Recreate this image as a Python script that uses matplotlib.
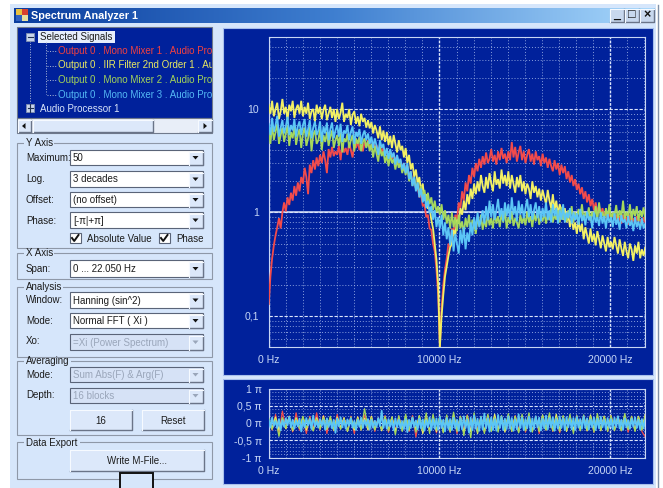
import matplotlib
matplotlib.use("Agg")
import matplotlib.pyplot as plt
import matplotlib.ticker
import numpy as np
from matplotlib.patches import Rectangle, Polygon

W, H = 663, 488
SPAN = 22050
plt.rcParams['font.family'] = ['Liberation Sans', 'DejaVu Sans']

signals = ["Output 0 . Mono Mixer 1 . Audio Processor 1",
           "Output 0 . IIR Filter 2nd Order 1 . Audio Processor 1",
           "Output 0 . Mono Mixer 2 . Audio Processor 1",
           "Output 0 . Mono Mixer 3 . Audio Processor 1"]
mag_ticks = [0.1, 1, 10]
mag_labels = ["0,1", "1", "10"]
freq_ticks = [0, 10000, 20000]
freq_labels = ["0 Hz", "10000 Hz", "20000 Hz"]
phase_ticks = [-1, -0.5, 0, 0.5, 1]
phase_labels = ["-1 π", "-0,5 π", "0 π", "0,5 π", "1 π"]

mag_red = [.13,.24,.36,.48,.6,.72,.88,.7,1,1.25,1.02,1.4,1.18,1.55,1.3,1.8,1.45,1.95,1.6,2.2,
 1.9,2.7,2.2,1.5,2.9,2.4,3.2,2.6,3.4,2.8,3.6,3,3.9,3.2,2.4,4.1,3.4,4.3,3.5,3.9,
 3.6,4.4,3.2,4.6,3.8,4.2,3.6,4.7,4,3.4,4.6,4.2,4.9,4,4.5,3.9,4.8,4.3,5,4.4,
 4.1,4.8,4.2,4.5,3.9,4.4,3.7,4.2,3.6,4.1,3.4,3.9,3.3,3.7,3.1,3.5,2.9,3.2,2.7,3,
 2.5,2.8,2.2,2.5,1.9,2.1,1.7,1.8,1.4,1.5,1.15,1.2,.9,.95,.7,.68,.5,.42,.28,.16,
 .05,
 .12,.2,.28,.36,.5,.46,.7,.62,.95,.85,1.25,1.1,1.6,1.3,1.95,1.6,2.3,1.9,2.7,2.2,
 3,2.5,3.3,2.7,3.5,2.9,3.8,3,3.3,4.1,3.1,3.6,2.9,3.9,3.2,4.2,3.3,3.7,3,3.9,
 3.2,4.8,3.4,4.3,3.1,3.8,4.4,3.2,3.9,3.0,3.6,4.1,3.1,3.7,2.9,3.9,3.2,3.5,2.8,3.7,
 3,3.4,2.7,3.3,2.8,2.5,3.2,2.6,3,2.3,2.9,2.4,2.8,2.1,2.5,1.95,2.3,1.8,2.1,1.65,
 1.9,1.5,1.75,1.35,1.6,1.25,1.5,1.15,1.35,1.05,1.25,1.0,1.15,.95,1.1,.9,1.05,.85,1,.88,
 .98,.85,.95,.8,.92,.78,.95,.82,.9,.76,.95,.8,.88,.78,.92,.82,.86,.75,.9,.8]
mag_yellow = [11,9,12,8.5,10,11.5,8,9.5,12.5,9,10.5,7.8,11,9.5,12,8.2,10,11,9,12,
 8.5,10.5,9,11.5,8,9.5,10,7.5,11,9,10.5,8,9.8,11,7.8,9,10.5,8.2,10,7.5,
 10,8,9.2,11.5,7.5,9,8.2,10,7,8.8,9.5,7.2,8.5,6.8,9,7.5,8.2,6.6,7.8,6.5,
 7.5,5.8,7,6.2,5.2,6.8,5,6.2,4.8,6,4.5,5.5,4.2,5.6,4.6,3.8,5,4,4.4,3.4,
 4.2,3,3.6,2.6,3,2.2,2.6,1.9,2.2,1.6,1.9,1.3,1.5,1.1,1.1,.85,.7,.5,.35,.2,
 .05,
 .1,.16,.24,.3,.38,.46,.5,.68,.6,.85,.78,1.1,.95,1.3,1.05,1.5,1.2,1.7,1.35,1.9,
 1.5,2,1.6,2.3,1.8,1.55,2.2,1.7,2.4,1.9,1.6,2.5,1.85,2.1,1.7,2.6,1.9,2.3,1.8,2.5,
 1.7,2.3,1.9,1.55,2.2,1.75,2.3,1.6,2,1.5,1.9,1.7,1.35,2,1.55,1.8,1.4,1.7,1.3,1.65,
 1.4,1.2,1.65,1.3,1.1,1.5,1.05,1.3,.95,1.2,1.05,.85,1.1,.8,.95,.72,.9,.68,.8,.62,
 .85,.65,.78,.55,.72,.6,.5,.7,.52,.62,.48,.66,.55,.45,.6,.5,.42,.58,.46,.52,
 .44,.58,.48,.4,.55,.45,.38,.52,.42,.36,.5,.44,.34,.48,.4,.52,.36,.44,.38,.46]
mag_green = [6.2,4.6,7,5,6,7.2,4.6,5.6,6.6,4.8,5.8,7,4.4,6,5.2,6.8,4.5,5.6,6.4,4.2,
 5.8,6.6,4.4,5.2,6.8,3.9,5.6,6.2,4.6,5,6.4,4,5.6,4.8,6,4.4,5.4,6.2,4.2,5,
 5.6,4.4,5.9,3.8,5.2,4.8,5.8,4.2,5,5.6,3.9,5.2,4.6,5.4,3.9,4.8,5.2,4.2,4.9,3.9,
 4.6,3.4,4.4,3.7,3.1,4.3,3.5,3.9,3,3.6,2.8,3.6,3,3.3,2.6,3.2,2.7,3,2.4,2.8,
 2.3,2.8,2.0,2.4,1.8,2.2,1.7,1.95,1.5,1.8,1.4,1.65,1.25,1.55,1.2,1.4,1.05,1.3,1,1.15,
 .95,1.2,.85,1.05,.78,.95,.7,1.0,.72,.9,
 .66,.95,.7,.82,.62,.88,.72,.95,.66,.85,.78,.62,.9,.74,.95,.68,.85,.72,.98,.75,
 .88,.7,1.0,.78,.92,.72,.98,.8,1.05,.7,.9,.78,1.02,.74,.88,.8,.7,.95,.78,.9,
 .75,1.02,.8,.92,.72,.98,.82,1.05,.76,.9,.82,1.0,.78,.94,.84,1.1,.8,.95,.85,1.05,
 .8,1.12,.86,.98,.82,1.05,.9,1.15,.8,1.0,.86,1.08,.9,1.2,.84,1,.9,1.12,.82,1.02,
 .88,1.15,.84,1.25,.9,1.02,.82,1.1,.88,1.2,.85,1,.92,1.18,.84,1.05,.9,1.3,.86,1.02,
 .88,1.2,.84,1.08,.92,1.15,.82,1.05,.9,1.12,.85]
mag_blue = [7.2,5.6,8.2,6,7,8.6,5.4,6.6,7.8,5.8,6.8,8.4,5.6,7,6.2,8,5.4,6.8,7.6,5.6,
 7,8,5.4,6.4,7.8,5.2,6.6,7.6,5.6,6.2,7.6,4.8,6.8,5.8,7.4,5,6.4,7.4,5.2,6.2,
 7,5.4,7.2,4.8,6.2,5.8,7,5,6,6.8,4.6,6,5.4,6.4,4.6,5.6,6.2,5,5.8,4.6,
 5.4,4.2,5.2,4.4,3.6,5,4.2,4.6,3.5,4.2,3.3,4.1,3.4,3.8,2.9,3.6,3,3.3,2.6,3,
 2.4,3,2.1,2.5,1.8,2.2,1.6,1.95,1.4,1.7,1.25,1.5,1.1,1.3,.98,1.15,.85,1.05,.72,.9,
 .7,.95,.6,.8,.55,.72,.48,.68,.42,.62,.5,.4,.68,.5,.72,.44,.64,.52,.8,.6,
 .9,.68,1,.72,.85,1.05,.78,1.15,.84,1.3,.9,1.2,.85,1.05,1.35,.9,1.1,.82,1.25,.92,
 1.2,.85,1.4,.95,1.15,.82,1.3,.95,1.2,.88,1.1,1.35,.9,1.2,.85,1.05,1.25,.88,1.15,.82,
 1.1,.9,1.25,.85,1.05,.8,1.2,.92,1.1,.78,1.05,.85,1.2,.8,1,.88,1.1,.78,1,.84,
 .98,.76,1.08,.82,.95,.75,1.02,.84,.92,.7,1,.8,.9,.74,1,.78,.92,.7,.96,.8,
 .9,.72,.98,.76,.88,.68,.94,.8,.86,.7,.92,.74,.84,.66,.9,.72,.82,.68,.88,.7,.78]

ph_red = [.1,-.2,.25,-.3,.35,-.15,.2,-.25,.3,-.2,
 .15,-.3,.2,-.18,.3,-.2,.22,-.3,.18,-.22,
 .25,-.16,.15,-.22,.2,-.3,.18,-.2,.24,-.18,
 .2,-.24,.16,-.2,.22,-.26,.16,-.2,.2,-.18,
 .16,-.24,.22,-.4,.18,-.26,.2,-.22,.15,-.28,
 .16,-.24,.2,-.26,.18,-.3,.2,-.22,.24,-.2,
 .22,-.2,.18,-.26,.24,-.22,.2,-.18,.16,-.22,
 .2,-.24,.22,-.2,.18,-.26,.16,-.22,.2,-.3,
 .18,-.2,.22,-.24,.2,-.28,.2,-.22,.16,-.24,
 .18,-.2,.22,-.22,.2,-.26,.15,-.2,.2,-.24,
 .22,-.18,.2,-.22,.16,-.26,.2,-.2,.18,-.24,-.4]
ph_yellow = [.12,-.15,.18,-.2,.14,-.16,.2,-.22,.16,-.14,
 .18,-.2,.12,-.22,.16,-.14,.2,-.18,.14,-.2,
 .18,-.14,.16,-.24,.12,-.2,.18,-.16,.14,-.2,
 .2,-.18,.12,-.22,.16,-.2,.18,-.24,.14,-.16,
 .2,-.2,.16,-.18,.22,-.3,.14,-.22,.18,-.24,
 .2,-.26,.16,-.22,.24,-.2,.18,-.28,.2,-.24,
 .22,-.3,.16,-.24,.2,-.22,.26,-.2,.18,-.26,
 .24,-.22,.2,-.26,.18,-.2,.22,-.24,.16,-.22,
 .24,-.18,.2,-.22,.26,-.2,.18,-.24,.2,-.2,
 .22,-.18,.16,-.22,.24,-.2,.18,-.22,.2,-.18,
 .16,-.22,.2,-.2,.24,-.18,.16,-.22,.2,-.18,.26]
ph_green = [.14,-.18,.12,-.38,.16,-.14,.18,-.2,.12,-.16,
 .2,-.14,.16,-.22,.12,-.18,.16,-.16,.2,-.2,
 .14,-.18,.12,-.22,.18,-.16,.14,-.2,.42,-.14,
 .16,-.2,.14,-.18,.2,-.22,.18,-.34,.22,-.24,
 .26,-.2,.18,-.26,.22,-.22,.3,-.3,.26,-.2,
 .2,-.28,.24,-.26,.32,-.24,.2,-.36,.22,-.42,
 .3,-.26,.2,-.3,.26,-.24,.18,-.26,.22,-.2,
 .28,-.24,.2,-.28,.26,-.22,.3,-.26,.2,-.24,
 .22,-.2,.3,-.22,.18,-.24,.22,-.2,.26,-.3,
 .18,-.22,.24,-.2,.2,-.26,.28,-.2,.2,-.24,
 .22,-.2,.18,-.22,.28,-.18,.2,-.24,.18,-.2,.22]
ph_blue = [.1,-.12,.16,-.08,.06,-.14,.12,-.2,.08,-.1,.14,-.06,.18,-.12,.1,-.16,.07,-.09,.13,-.24,
 .08,-.12,.15,-.07,.11,-.17,.22,-.1,.06,-.13,.12,-.08,.09,-.19,.14,-.11,.07,-.15,.1,-.28,
 .13,-.09,.17,-.12,.08,-.16,.11,-.07,.14,-.13,.06,-.2,.1,-.1,.16,-.14,.09,-.08,.12,-.18,
 .1,-.13,.07,-.11,.15,-.09,.36,-.14,.1,-.16,.12,-.1,.08,-.2,.14,-.12,.1,-.15,.06,-.17,
 .12,-.26,.1,-.14,.16,-.11,.08,-.18,.13,-.15,.11,-.22,.09,-.12,.17,-.2,.12,-.16,.14,-.19,
 .18,-.14,.1,-.24,.15,-.17,.12,-.2,.16,-.15,.1,-.22,.14,-.18,.2,-.14,.11,-.27,.16,-.2,
 .22,-.16,.13,-.22,.18,-.18,.28,-.15,.14,-.25,.17,-.2,.12,-.22,.24,-.14,.18,-.2,.13,-.17,
 .2,-.16,.15,-.22,.11,-.18,.26,-.14,.16,-.2,.12,-.15,.19,-.24,.14,-.17,.2,-.12,.16,-.21,
 .13,-.15,.22,-.18,.15,-.12,.17,-.22,.12,-.16,.2,-.14,.14,-.2,.18,-.12,.13,-.18,.15,-.2,
 .18,-.13,.12,-.16,.2,-.14,.14,-.19,.11,-.12,.17,-.2,.13,-.15,.19,-.12,.1,-.18,.15,-.13,
 .12,-.17,.16,-.11,.2,-.15,.1,-.19,.14,-.12,.09,-.16,.13,-.1,.17,-.14,.1,-.18,.12,-.15,.1]

mag_series = [(mag_red, '#f24b4b'), (mag_yellow, '#f2f064'), (mag_green, '#a6d85c'), (mag_blue, '#5cc6f6')]
ph_series = [(ph_red, '#f24b4b', 0.9), (ph_yellow, '#f2f064', 0.9), (ph_green, '#a6d85c', 0.9), (ph_blue, '#5cc6f6', 1.3)]

NAVY = '#00219b'
FRAME = '#d6e6fb'
GRIDC = '#a9bcec'
TXT = '#1c1c1c'
TICK = '#c6d6f6'
FS = 7.0

fig = plt.figure(figsize=(W / 100, H / 100), dpi=100, facecolor='white')


def px_axes(x0, y0, x1, y1, **kw):
    ax = fig.add_axes([x0 / W, 1 - y1 / H, (x1 - x0) / W, (y1 - y0) / H], **kw)
    return ax


ui = px_axes(0, 0, W, H)
ui.set_xlim(0, W)
ui.set_ylim(H, 0)
ui.axis('off')


def box(x0, y0, x1, y1, fc, ec='none', lw=0.8, z=1):
    ui.add_patch(Rectangle((x0, y0), x1 - x0, y1 - y0, fc=fc, ec=ec, lw=lw, zorder=z))


def label(x, y, s, color=TXT, ha='left', fs=FS, **kw):
    ui.text(x, y, s, color=color, ha=ha, va='center', fontsize=fs, zorder=6, **kw)


def raised(x0, y0, x1, y1, fc='#dce8fa', z=3):
    box(x0, y0, x1, y1, fc, z=z)
    ui.plot([x0, x1, x1], [y1, y1, y0], color='#6a7488', lw=1.0, zorder=z + 1)
    ui.plot([x0, x0, x1], [y1, y0, y0], color='#f6faff', lw=0.8, zorder=z + 1)


def arrow(cx, cy, direction='down', color='#111111'):
    s = 3
    pts = {'down': [(cx - s, cy - 1.5), (cx + s, cy - 1.5), (cx, cy + 2)],
           'left': [(cx + 1.5, cy - s), (cx + 1.5, cy + s), (cx - 2, cy)],
           'right': [(cx - 1.5, cy - s), (cx - 1.5, cy + s), (cx + 2, cy)]}[direction]
    ui.add_patch(Polygon(pts, fc=color, ec='none', zorder=6))


def group(x0, y0, x1, y1, title, tx1):
    ui.add_patch(Rectangle((x0, y0), x1 - x0, y1 - y0, fc='none', ec='#8e98a8', lw=0.8, zorder=2))
    box(x0 + 7, y0 - 2, tx1, y0 + 2, FRAME, z=3)
    label(x0 + 9, y0 + 0.5, title)


def combo(y0, y1, s, disabled=False):
    fc = '#d6e2f6' if disabled else 'white'
    box(70, y0, 203, y1, fc, ec='#5a6478', lw=0.8, z=3)
    label(73, (y0 + y1) / 2 + 0.5, s, color='#9aa6ba' if disabled else TXT)
    raised(189, y0 + 1.5, 202.5, y1 - 0.5, z=4)
    arrow(195.5, (y0 + y1) / 2, color='#9aa6ba' if disabled else '#111111')


# window
box(10, 4, 656, H, FRAME, z=0)
ui.plot([658, 658], [5, H], color='#8090a8', lw=1.0, zorder=1)
grad = np.linspace(0, 1, 256).reshape(1, -1)
cm = matplotlib.colors.LinearSegmentedColormap.from_list('t', ['#0a3d9e', '#3f7fd0', '#a8d8fc'])
ui.imshow(grad, extent=(14, 655, 23, 8), cmap=cm, aspect='auto', zorder=1)
ui.set_xlim(0, W)
ui.set_ylim(H, 0)
label(31, 16, "Spectrum Analyzer 1", color='white', fontweight='bold', fs=7.8)
box(16, 9, 22, 15, '#e8c040', z=3)
box(22, 9, 28, 15, '#d84030', z=3)
box(16, 15, 22, 21, '#3060c0', z=3)
box(22, 15, 28, 21, '#e8e0a0', z=3)
for x0, glyph in zip([610, 625, 640], ['_', '□', '×']):
    raised(x0, 9, x0 + 13.5, 22, fc='#c8d8ee')
    label(x0 + 6.7, 15, glyph, ha='center', color='#111111', fs=9, fontweight='bold')

# tree: its own axes, so the long signal names are clipped at the tree's right edge
box(17, 27, 212, 118, NAVY, ec='#707a8c', z=2)
box(38, 31, 115, 43, '#e6eefc', z=3)
label(40, 37, "Selected Signals")
ui.plot([29.5, 29.5], [41, 103], color='#b0bcd8', lw=0.7, ls=':', zorder=3)
ui.plot([46, 46], [42, 94], color='#b0bcd8', lw=0.7, ls=':', zorder=3)
for yy in [36.5, 108]:
    box(26, yy - 4, 34, yy + 4, '#c8d4ec', ec='#8090b0', lw=0.6, z=4)
    ui.plot([27.5, 32.5], [yy, yy], color='#203050', lw=0.8, zorder=5)
ui.plot([30, 30], [104, 112], color='#203050', lw=0.8, zorder=5)
sig_colors = ['#f04040', '#e8e860', '#a4d458', '#54b8f4']
tree = px_axes(17, 27, 212, 118)
tree.set_xlim(17, 212)
tree.set_ylim(118, 27)
tree.axis('off')
tree.patch.set_alpha(0)
for yy, s, c in zip([51, 65.5, 80, 94.5], signals, sig_colors):
    ui.plot([47, 56], [yy, yy], color='#b0bcd8', lw=0.7, ls=':', zorder=3)
    tree.text(57.5, yy, s, color=c, fontsize=FS, va='center', clip_on=True)
label(40, 108.5, "Audio Processor 1", color='#d8e4fa')
# scrollbar
box(17, 118, 212, 133, '#e8eef8', ec='#707a8c', z=2)
raised(18, 119.5, 31, 132)
arrow(24, 126, 'left')
raised(33, 119.5, 153, 132)
raised(198, 119.5, 211.5, 132)
arrow(205, 126, 'right')

# groups
group(17, 143, 212, 248, "Y Axis", 54)
group(17, 253, 212, 279, "X Axis", 54)
group(17, 287, 212, 357, "Analysis", 63)
group(17, 361, 212, 435, "Averaging", 71)
group(17, 442, 212, 479, "Data Export", 80)

for yy, s in zip([158, 179, 200, 220.5, 269, 300, 321, 341, 375, 395],
                 ["Maximum:", "Log.", "Offset:", "Phase:", "Span:", "Window:", "Mode:", "Xo:", "Mode:", "Depth:"]):
    label(26, yy, s)
combo(150, 165, "50")
combo(171, 187, "3 decades")
combo(192, 207, "(no offset)")
combo(212, 228, "[-π|+π]")
combo(260, 277, "0 ... 22.050 Hz")
combo(292, 308, "Hanning (sin^2)")
combo(313, 328, "Normal FFT ( Xi )")
combo(334, 350, "=Xi (Power Spectrum)", True)
combo(367, 382, "Sum Abs(F) & Arg(F)", True)
combo(388, 403, "16 blocks", True)

for x0, tx, s in [(70, 87, "Absolute Value"), (159, 176, "Phase")]:
    box(x0, 233, x0 + 10.5, 243, 'white', ec='#5a6478', z=3)
    ui.plot([x0 + 2, x0 + 4.2, x0 + 8.5], [238, 241, 235], color='#111111', lw=1.4, zorder=5)
    label(tx, 239.5, s)

raised(70, 410, 132, 430)
label(101, 420.5, "16", ha='center')
raised(142, 410, 204, 430)
label(173, 420.5, "Reset", ha='center')
raised(70, 450, 204, 471)
label(137, 460.5, "Write M-File...", ha='center')
box(120, 473, 153, H + 3, FRAME, ec='#111111', lw=1.4, z=5)

# panels
box(223, 28, 653, 375, NAVY, ec='#a8c0ec', lw=0.8, z=1)
box(223, 379, 653, 484, NAVY, ec='#a8c0ec', lw=0.8, z=1)


def style(ax):
    ax.set_facecolor(NAVY)
    ax.set_xlim(0, SPAN)
    ax.set_xticks(freq_ticks)
    ax.set_xticklabels(freq_labels)
    ax.set_xticks(np.arange(0, SPAN + 1, 1000), minor=True)
    ax.grid(True, which='minor', axis='both', color=GRIDC, lw=0.7, ls=(0, (1, 2)), alpha=0.8)
    ax.grid(True, which='major', axis='x', color='#dbe5fb', lw=1.0, ls=(0, (2, 1)))
    ax.grid(True, which='major', axis='y', color='#dbe5fb', lw=0.8, ls=(0, (3, 1.5)))
    ax.set_axisbelow(True)
    for s in ax.spines.values():
        s.set_color('#c8d6f4')
        s.set_linewidth(0.8)
    ax.tick_params(which='both', length=0, labelcolor=TICK, labelsize=7.6)


# magnitude plot
ax = px_axes(268.7, 36.7, 645.3, 347)
ax.set_yscale('log')
ax.set_ylim(0.05, 50)
ax.set_yticks(mag_ticks)
ax.set_yticklabels(mag_labels)
ax.set_yticks([m * d for d in [0.01, 0.1, 1, 10] for m in range(2, 10) if 0.05 <= m * d <= 50], minor=True)
ax.yaxis.set_minor_formatter(matplotlib.ticker.NullFormatter())
style(ax)
ax.tick_params(axis='y', pad=7)
ax.tick_params(axis='x', pad=6)
ax.axhline(1, color='#dbe5fb', lw=1.1, zorder=1.5)
for vals, c in mag_series:
    ax.plot(np.linspace(0, SPAN, len(vals)), vals, color=c, lw=1.3, solid_joinstyle='miter', zorder=3)

# phase plot
ax2 = px_axes(268.7, 388.7, 645.3, 457.7)
ax2.set_ylim(-1, 1)
ax2.set_yticks(phase_ticks)
ax2.set_yticklabels(phase_labels)
ax2.set_yticks(np.arange(-1, 1.01, 0.1), minor=True)
style(ax2)
ax2.tick_params(axis='y', pad=5)
ax2.tick_params(axis='x', pad=6)
for vals, c, lw in ph_series:
    ax2.plot(np.linspace(0, SPAN, len(vals)), vals, color=c, lw=lw, zorder=3)

fig.savefig('out.png', dpi=100)
